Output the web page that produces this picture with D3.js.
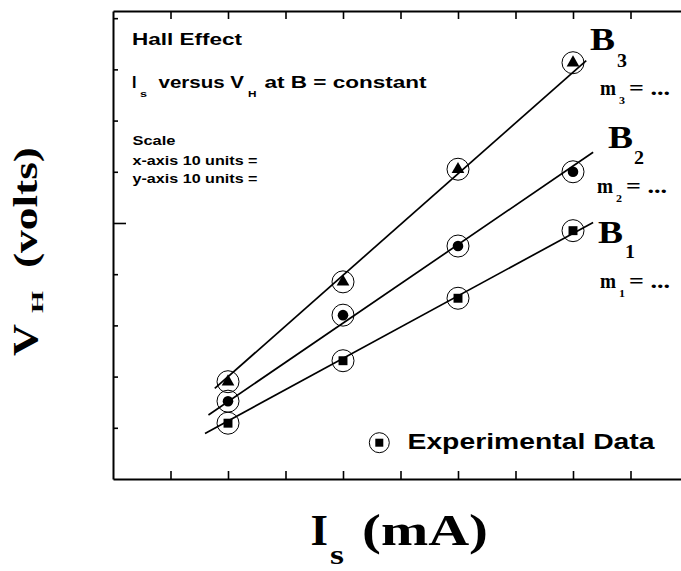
<!DOCTYPE html>
<html>
<head>
<meta charset="utf-8">
<script src="https://cdn.jsdelivr.net/npm/d3@7"></script>
<style>
  html, body { margin: 0; padding: 0; background: #fff; }
  svg { display: block; }
</style>
</head>
<body>
<svg id="chart" width="681" height="571"></svg>
<script>
// ---- data ----
const xValues = [2, 4, 6, 8];                         // Is (mA) grid units
const seriesNames = ["B1", "B2", "B3"];
const b1Values = [1.09, 2.31, 3.53, 4.85];            // squares
const b2Values = [1.52, 3.20, 4.55, 6.00];            // filled circles
const b3Values = [1.90, 3.85, 6.05, 8.13];            // triangles
const fitStartX = [1.60, 1.66, 1.77];
const fitEndX   = [8.35, 8.35, 8.23];
const fitStartY = [0.89, 1.25, 1.77];
const fitEndY   = [5.01, 6.38, 8.17];
const xTicks = [1, 2, 3, 4, 5, 6, 7, 8, 9, 10];
const yTicks = [1, 2, 3, 4, 5, 6, 7, 8, 9];

const svg = d3.select("#chart");
const x = d3.scaleLinear().domain([0, 10]).range([113, 688]);
const y = d3.scaleLinear().domain([0, 9.14]).range([479, 11]);

const serif = "'Liberation Serif', 'Times New Roman', serif";
const sans = "'Liberation Sans', Arial, sans-serif";

// ---- axes / frame ----
function styleAxis(g) {
  g.selectAll(".domain").attr("stroke", "#000").attr("stroke-width", 2);
  g.selectAll(".tick line").attr("stroke", "#000").attr("stroke-width", 1.6);
  g.selectAll(".tick text").remove();
}
svg.append("g").attr("transform", "translate(0,479)")
  .call(d3.axisBottom(x).tickValues(xTicks).tickSizeInner(-8).tickSizeOuter(0).tickFormat(""))
  .call(styleAxis);
svg.append("g").attr("transform", "translate(0,11)")
  .call(d3.axisTop(x).tickValues(xTicks).tickSizeInner(-8).tickSizeOuter(0).tickFormat(""))
  .call(styleAxis);
const yAx = svg.append("g").attr("transform", "translate(113,0)")
  .call(d3.axisLeft(y).tickValues(yTicks).tickSizeInner(-5).tickSizeOuter(0).tickFormat(""))
  .call(styleAxis);
yAx.selectAll(".tick").filter(d => d === 5).select("line").attr("x2", 13);

// ---- fit lines ----
const fits = seriesNames.map((n, i) => [[fitStartX[i], fitStartY[i]], [fitEndX[i], fitEndY[i]]]);
const line = d3.line().x(d => x(d[0])).y(d => y(d[1]));
svg.append("g").selectAll("path").data(fits).join("path")
  .attr("d", line).attr("fill", "none").attr("stroke", "#000").attr("stroke-width", 1.7);

// ---- points ----
const symbols = [d3.symbolSquare, d3.symbolCircle, d3.symbolTriangle];
const sizes = [80, 88, 70];
const allSeries = [b1Values, b2Values, b3Values];
allSeries.forEach((vals, i) => {
  const pts = vals.map((v, j) => ({ x: xValues[j], y: v }));
  const g = svg.append("g");
  g.selectAll("circle").data(pts).join("circle")
    .attr("cx", d => x(d.x)).attr("cy", d => y(d.y)).attr("r", 11)
    .attr("fill", "none").attr("stroke", "#000").attr("stroke-width", 1);
  g.selectAll("path").data(pts).join("path")
    .attr("transform", d => `translate(${x(d.x)},${y(d.y)})`)
    .attr("d", d3.symbol().type(symbols[i]).size(sizes[i])())
    .attr("fill", "#000");
});

// ---- text helper ----
function txt(xp, yp, s, size, family, len, parent) {
  const t = (parent || svg).append("text")
    .attr("x", xp).attr("y", yp).text(s)
    .attr("font-family", family).attr("font-weight", "bold")
    .attr("font-size", size).attr("fill", "#000");
  if (len) t.attr("textLength", len).attr("lengthAdjust", "spacingAndGlyphs");
  return t;
}

// top-left annotations
txt(132, 45, "Hall Effect", 17, sans, 110);
txt(132, 88.3, "I", 16, sans);
txt(140, 97, "s", 9, sans, 7);
txt(158.5, 88.3, "versus V", 16, sans, 85.5);
txt(248, 97, "H", 9, sans, 8.5);
txt(264.5, 88.3, "at B = constant", 16, sans, 162);
txt(132.5, 145, "Scale", 13, sans, 43);
txt(132.5, 165, "x-axis 10 units =", 13, sans, 125);
txt(132.5, 182.5, "y-axis 10 units =", 13, sans, 125);

// series labels
const bLabelX = [598, 608, 590];
const bLabelY = [243, 148, 50];
const bSubX = [625, 634, 617];
const bSubY = [258, 164, 67];
const subDigits = ["1", "2", "3"];
const mLabelX = [600, 597, 600];
const mLabelY = [288, 193, 95];
seriesNames.forEach((n, i) => {
  txt(bLabelX[i], bLabelY[i], "B", 32, serif, 25);
  txt(bSubX[i], bSubY[i], subDigits[i], 19, serif, 10);
  txt(mLabelX[i], mLabelY[i], "m", 22, serif, 16);
  txt(mLabelX[i] + 19, mLabelY[i] + 9, subDigits[i], 10, serif, 6);
  txt(mLabelX[i] + 29, mLabelY[i], "= ...", 22, serif, 41);
});

// legend
svg.append("circle").attr("cx", 379.3).attr("cy", 442.7).attr("r", 10)
  .attr("fill", "none").attr("stroke", "#000").attr("stroke-width", 1);
svg.append("path").attr("transform", "translate(379.3,442.7)")
  .attr("d", d3.symbol().type(d3.symbolSquare).size(64)()).attr("fill", "#000");
txt(407.5, 449.3, "Experimental Data", 22, sans, 247);

// x-axis title
txt(310.5, 545, "I", 45, serif, 17.5);
txt(330, 564, "s", 27, serif, 14);
txt(362, 545, "(mA)", 45, serif, 126);

// y-axis title (rotated)
const yt1 = svg.append("g").attr("transform", "translate(38,356) rotate(-90)");
txt(0, 0, "V", 35, serif, 32, yt1);
const yt2 = svg.append("g").attr("transform", "translate(43,313) rotate(-90)");
txt(0, 0, "H", 16, serif, 22, yt2);
const yt3 = svg.append("g").attr("transform", "translate(37,268) rotate(-90)");
txt(0, 0, "(volts)", 34, serif, 121, yt3);
</script>
</body>
</html>
